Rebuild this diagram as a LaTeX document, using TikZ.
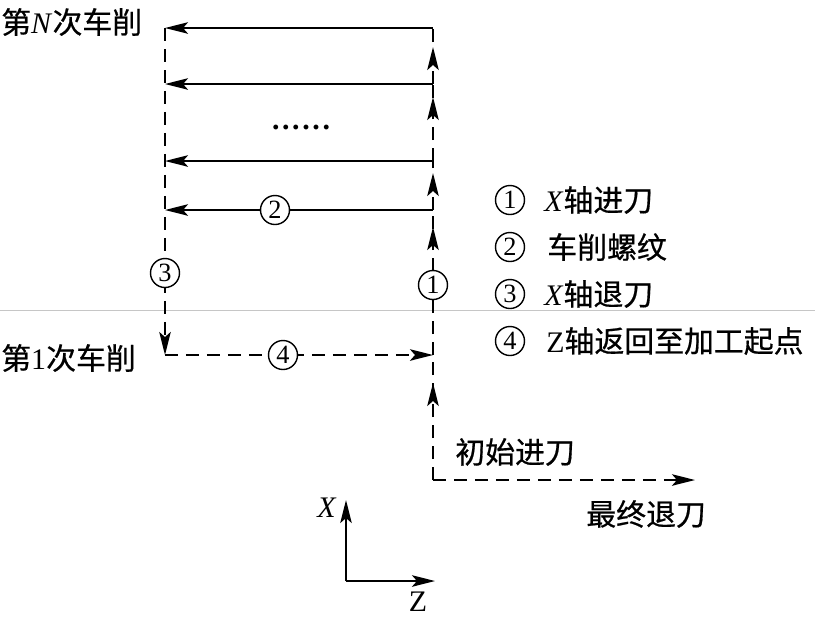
\documentclass[tikz,border=0pt]{standalone}
\usepackage{fontspec}
\setmainfont{Liberation Serif}
\newfontfamily\cjk[FakeBold=0.6]{Noto Sans CJK SC}
\usepackage{tikz}
\usetikzlibrary{arrows.meta,decorations.markings}

\newcommand{\zh}[1]{{\cjk #1}}

\tikzset{
  cut/.style={line width=1.2pt,-{Stealth[length=4.6mm,width=2.3mm,inset=1mm]}},
  move/.style={line width=1.2pt,dash pattern=on 2.6mm off 1.6mm},
  rapid/.style={move,-{Stealth[length=4.6mm,width=2.3mm,inset=1mm]}},
  tipat/.style={postaction={decorate},
    decoration={markings,mark=at position #1 with
      {\arrow{Stealth[length=4.6mm,width=2.3mm,inset=1mm]}}}},
  num/.style={circle,draw,line width=0.8pt,fill=white,inner sep=0pt,
    minimum size=5.8mm,font=\fontsize{15}{15}\selectfont},
  lbl/.style={font=\fontsize{17}{20}\selectfont,inner sep=0pt},
}

\begin{document}
\begin{tikzpicture}[x=0.02cm,y=-0.02cm]
  \useasboundingbox (0,0) rectangle (815,627);
  % --- seam of the scan ---------------------------------------------
  \draw[gray!45,line width=0.4pt] (0,310) -- (815,310);
  % --- cutting passes -----------------------------------------------
  \coordinate (s1) at (165,355);
  \coordinate (p1) at (433,355);
  \coordinate (p0) at (433,480);
  \coordinate (fin) at (695,480);
  \foreach \n/\y in {N/28,c/84,b/161,a/210}{
    \coordinate (L\n) at (165,\y);
    \coordinate (R\n) at (433,\y);
    \draw[cut] (R\n) -- (L\n);
  }
  % --- rapid moves --------------------------------------------------
  \draw[rapid] (LN) -- (s1);
  \draw[rapid] (s1) -- (p1);
  \draw[move,tipat=-5.6mm] (p0) -- (p1);
  \draw[move,tipat=-3.4mm] (p1) -- (Ra);
  \draw[move,tipat=-2.4mm] (Ra) -- (Rb);
  \draw[move,tipat=-2.6mm] (Rb) -- (Rc);
  \draw[move,tipat=-3.8mm] (Rc) -- (RN);
  \draw[rapid] (p0) -- (fin);
  % --- step marks ---------------------------------------------------
  \node[num] (m2) at (275,210) {2};
  \node[num] (m3) at (165,273) {3};
  \node[num] (m1) at (433,285) {1};
  \node[num] (m4) at (283,355) {4};
  \node[lbl,font=\fontsize{17}{20}\selectfont\bfseries] (dots) at (301,127)
    {.\kern1.5pt.\kern1.5pt.\kern1.5pt.\kern1.5pt.\kern1.5pt.};
  % --- labels -------------------------------------------------------
  \node[lbl,anchor=west] (passN) at (1,22) {\zh{第}\textit{N}\zh{次车削}};
  \node[lbl,anchor=west] (pass1) at (1,358) {\zh{第}1\zh{次车削}};
  \node[lbl,anchor=west] (feed0) at (455,452) {\zh{初始进刀}};
  \node[lbl,anchor=west] (back) at (586,514) {\zh{最终退刀}};
  % --- legend -------------------------------------------------------
  \node[num] (k1) at (510,200) {1};
  \node[num] (k2) at (510,247) {2};
  \node[num] (k3) at (510,294) {3};
  \node[num] (k4) at (510,341) {4};
  \node[lbl,anchor=west] (t1) at (544,200) {\textit{X}\zh{轴进刀}};
  \node[lbl,anchor=west] (t2) at (547,247) {\zh{车削螺纹}};
  \node[lbl,anchor=west] (t3) at (544,294) {\textit{X}\zh{轴退刀}};
  \node[lbl,anchor=west] (t4) at (546,341) {Z\zh{轴返回至加工起点}};
  % --- axes ---------------------------------------------------------
  \coordinate (o) at (346,581);
  \coordinate (ax) at (346,500);
  \coordinate (az) at (435,581);
  \draw[cut] (o) -- (ax);
  \draw[cut] (o) -- (az);
  \node[lbl] (lx) at (327,508) {\textit{X}};
  \node[lbl] (lz) at (418,602) {Z};
\end{tikzpicture}
\end{document}
